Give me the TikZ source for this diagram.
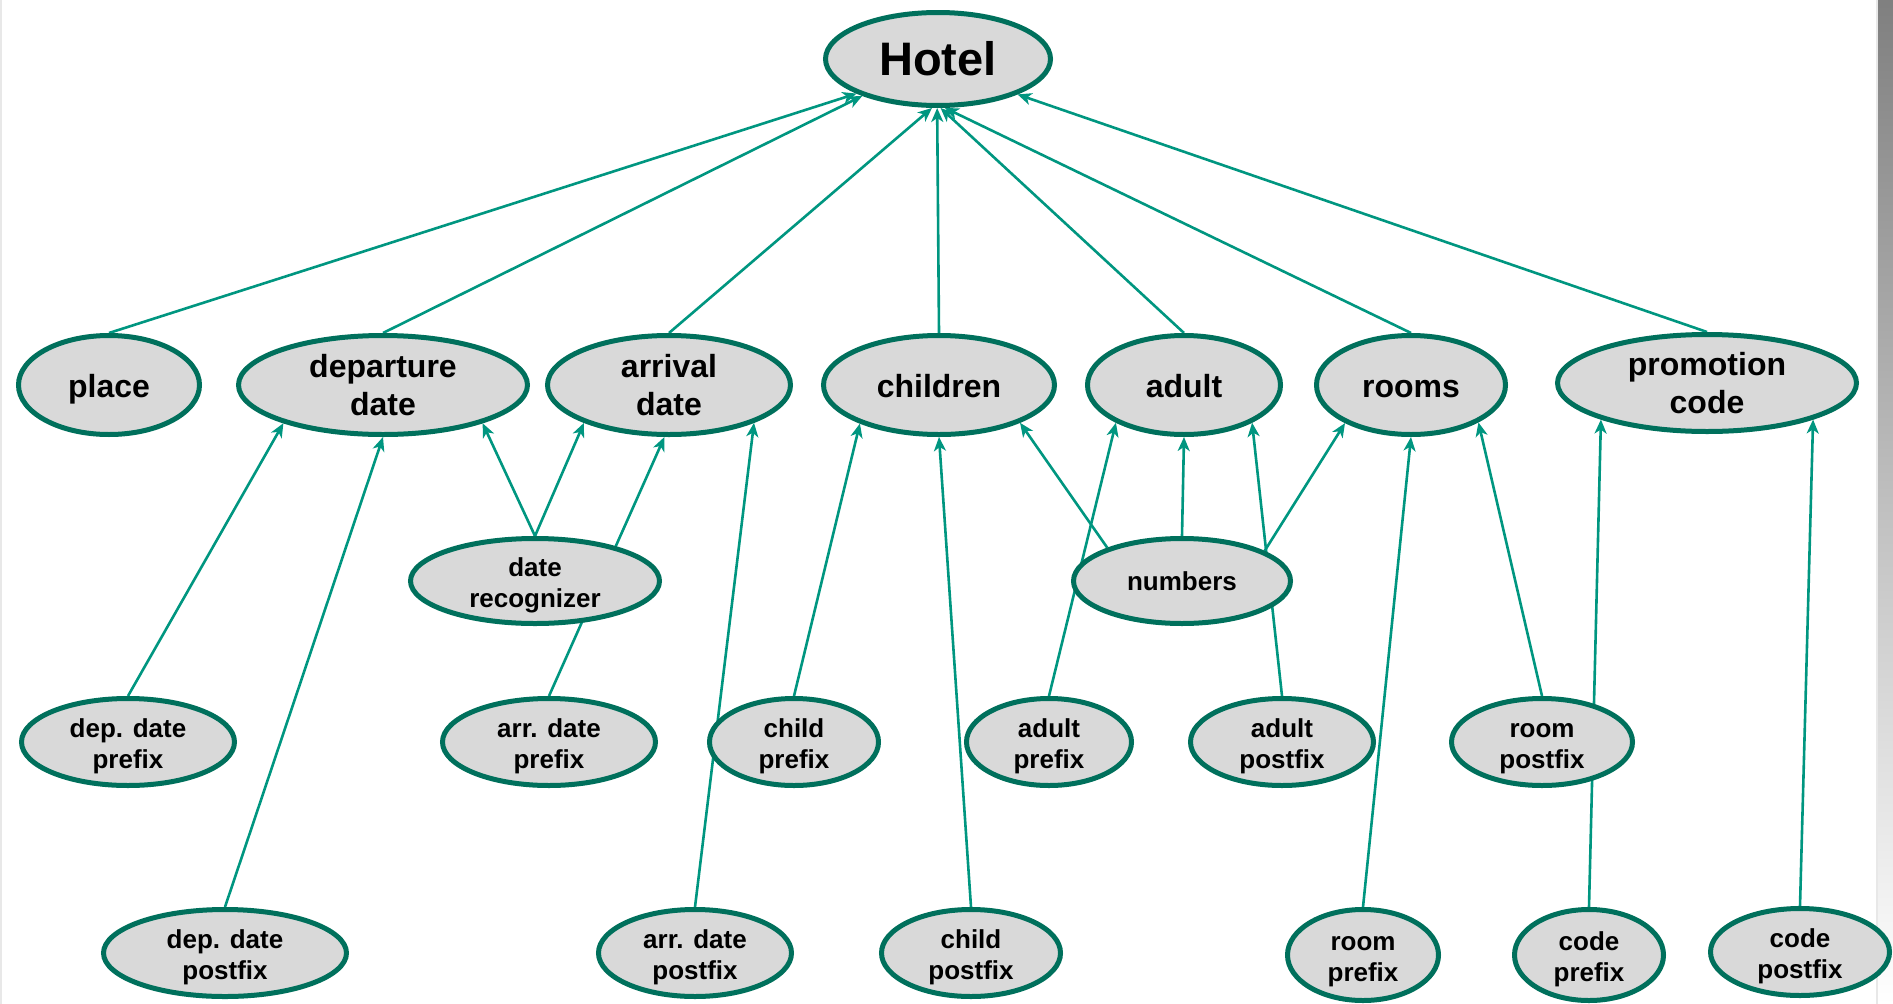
\documentclass[tikz,border=0pt]{standalone}
\usepackage{fontspec}
\setmainfont{Liberation Sans}
\usetikzlibrary{shapes.geometric,arrows.meta,backgrounds}
\definecolor{rim}{RGB}{0,112,92}
\definecolor{wire}{RGB}{0,150,128}
\definecolor{shade}{RGB}{217,217,217}
\definecolor{edgegray}{RGB}{232,232,232}
\tikzset{
  term/.style={ellipse, draw=rim, fill=shade, line width=5pt, inner sep=0pt,
    align=center, text=black, font=\bfseries\fontsize{26}{31}\selectfont},
  pair/.style={term, text height=52.7pt, text depth=0pt},
  mid/.style={term, font=\bfseries\fontsize{32}{38}\selectfont},
  midone/.style={mid, text height=24.5pt, text depth=0pt},
  top/.style={term, font=\bfseries\fontsize{47}{52}\selectfont},
  link/.style={draw=wire, line width=2.6pt,
    -{Stealth[length=14pt,width=12pt,inset=4pt]}},
}
\begin{document}
\begin{tikzpicture}[x=1pt,y=-1pt]
\useasboundingbox (0,0) rectangle (1893,1004);
% page edges
\fill[edgegray] (0,0) rectangle (2,1004);
\fill[shade] (1877,0) rectangle (1893,1004);
\fill[edgegray] (1876,0) rectangle (1878,1004);

% root
\node[top, minimum width=225pt, minimum height=93pt] (hotel) at (938,59) {Hotel};

% slots
\node[midone, minimum width=181pt, minimum height=99pt] (place) at (109,385) {place};
\node[mid, minimum width=289pt, minimum height=99pt] (depart) at (383,385) {departure\\date};
\node[mid, minimum width=243pt, minimum height=99pt] (arrive) at (669,385) {arrival\\date};
\node[midone, minimum width=231pt, minimum height=99pt] (children) at (939,385) {children};
\node[midone, minimum width=193pt, minimum height=99pt] (adult) at (1184,385) {adult};
\node[midone, minimum width=189pt, minimum height=99pt] (rooms) at (1411,385) {rooms};
\node[mid, minimum width=299pt, minimum height=97pt] (promo) at (1707,383) {promotion\\code};

% shared recognizers
\node[pair, minimum width=249pt, minimum height=85pt] (daterec) at (535,581) {date\\recognizer};
\node[term, minimum width=217pt, minimum height=85pt] (numbers) at (1182,581) {numbers};

% prefixes and postfixes
\node[pair, minimum width=213pt, minimum height=87pt] (depprefix) at (128,742) {dep. date\\prefix};
\node[pair, minimum width=213pt, minimum height=87pt] (arrprefix) at (549,742) {arr. date\\prefix};
\node[pair, minimum width=169pt, minimum height=87pt] (childprefix) at (794,742) {child\\prefix};
\node[pair, minimum width=165pt, minimum height=87pt] (adultprefix) at (1049,742) {adult\\prefix};
\node[pair, minimum width=183pt, minimum height=87pt] (adultpostfix) at (1282,742) {adult\\postfix};
\node[pair, minimum width=181pt, minimum height=87pt] (roompostfix) at (1542,742) {room\\postfix};

\node[pair, minimum width=243pt, minimum height=87pt] (deppostfix) at (225,953) {dep. date\\postfix};
\node[pair, minimum width=193pt, minimum height=87pt] (arrpostfix) at (695,953) {arr. date\\postfix};
\node[pair, minimum width=179pt, minimum height=87pt] (childpostfix) at (971,953) {child\\postfix};
\node[pair, minimum width=151pt, minimum height=91pt] (roomprefix) at (1363,955) {room\\prefix};
\node[pair, minimum width=149pt, minimum height=91pt] (codeprefix) at (1589,955) {code\\prefix};
\node[pair, minimum width=179pt, minimum height=87pt] (codepostfix) at (1800,952) {code\\postfix};

% connectors run behind the ellipses
\begin{pgfonlayer}{background}
\draw[link] (place.north) -- (hotel.203);
\draw[link] (depart.north) -- (hotel.206);
\draw[link] (arrive.north) -- (hotel.263);
\draw[link] (children.north) -- (hotel.269);
\draw[link] (adult.north) -- (hotel.273);
\draw[link] (rooms.north) -- (hotel.278);
\draw[link] (promo.north) -- (hotel.336);

\draw[link] (depprefix.north) -- (depart.201);
\draw[link] (deppostfix.north) -- (depart.270);
\draw[link] (daterec.north) -- (depart.339);
\draw[link] (daterec.north) -- (arrive.204);
\draw[link] (arrprefix.north) -- (arrive.265);
\draw[link] (arrpostfix.north) -- (arrive.336);

\draw[link] (childprefix.north) -- (children.206);
\draw[link] (childpostfix.north) -- (children.270);
\draw[link] (numbers.156) -- (children.335);

\draw[link] (numbers.north) -- (adult.270);
\draw[link] (adultprefix.north) -- (adult.209);
\draw[link] (adultpostfix.north) -- (adult.331);

\draw[link] (numbers.20) -- (rooms.210);
\draw[link] (roomprefix.north) -- (rooms.270);
\draw[link] (roompostfix.north) -- (rooms.331);

\draw[link] (codeprefix.north) -- (promo.199);
\draw[link] (codepostfix.north) -- (promo.341);
\end{pgfonlayer}
\end{tikzpicture}
\end{document}
